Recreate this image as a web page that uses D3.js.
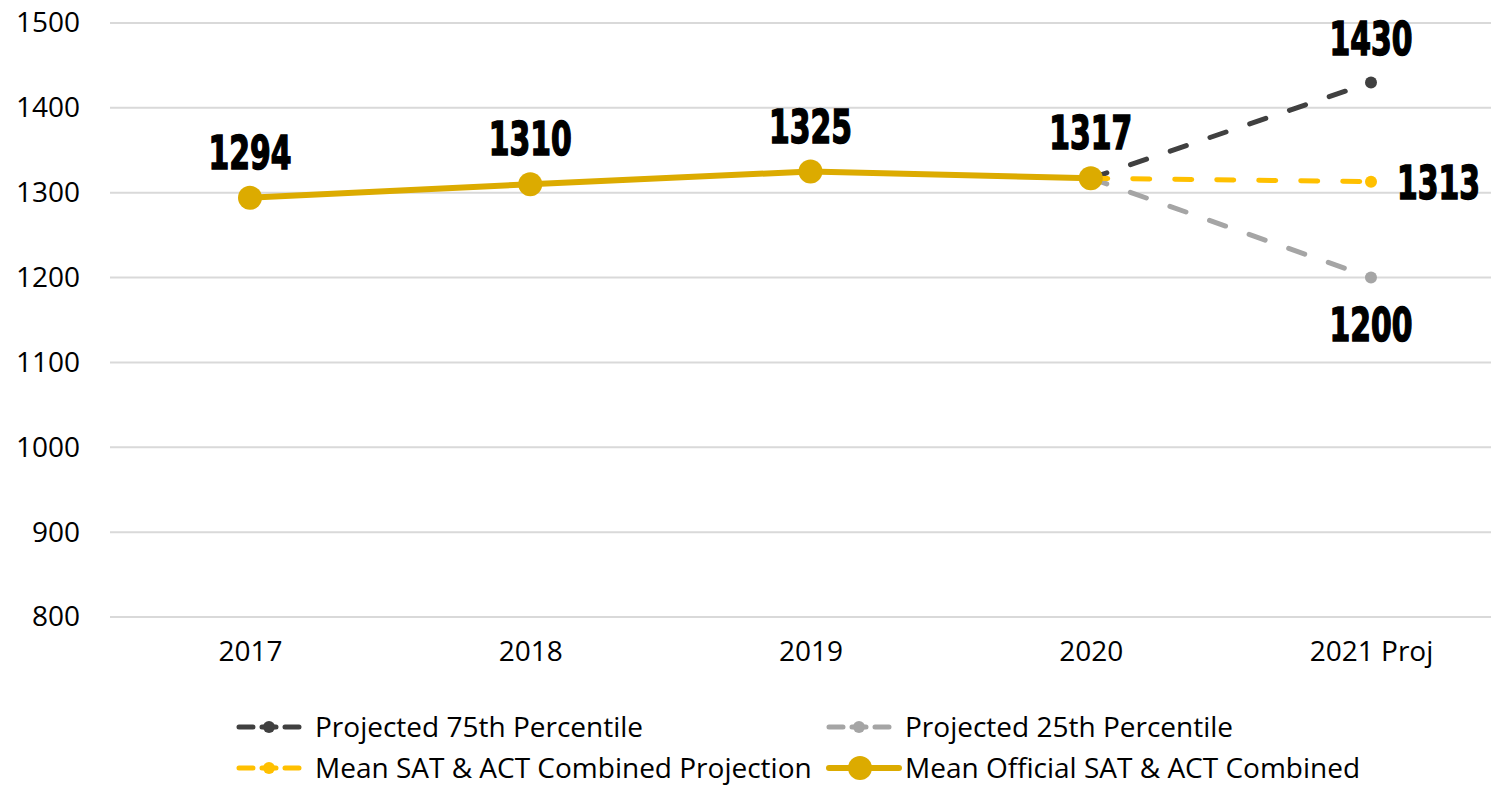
<!DOCTYPE html>
<html>
<head>
<meta charset="utf-8">
<script src="https://cdn.jsdelivr.net/npm/d3@7"></script>
<style>
  body { margin: 0; background: #fff; }
  .tick text { font-family: "Open Sans", sans-serif; font-size: 28px; fill: #000; }
  .lbl { font-family: "DejaVu Sans Condensed", "DejaVu Sans", sans-serif; font-weight: bold; font-size: 46px; fill: #000; stroke: #000; stroke-width: 1.5px; }
  .leg { font-family: "Open Sans", sans-serif; font-size: 28px; fill: #000; }
</style>
</head>
<body>
<div id="chart"></div>
<script>
var categories = ["2017", "2018", "2019", "2020", "2021 Proj"];
var official = [1294, 1310, 1325, 1317, null];
var projMean = [null, null, null, 1317, 1313];
var proj75 = [null, null, null, 1317, 1430];
var proj25 = [null, null, null, 1317, 1200];
var yTicks = [800, 900, 1000, 1100, 1200, 1300, 1400, 1500];

var W = 1491, H = 785;
var margin = { top: 23, left: 110, bottom: 168 };

var svg = d3.select("#chart").append("svg")
    .attr("width", W)
    .attr("height", H);

var x = d3.scalePoint()
    .domain(categories)
    .range([250, 1371]);

var y = d3.scaleLinear()
    .domain([800, 1500])
    .range([H - margin.bottom, margin.top]);

// gridlines
svg.append("g")
    .selectAll("line")
    .data(yTicks)
    .enter().append("line")
    .attr("x1", margin.left)
    .attr("x2", W)
    .attr("y1", function (d) { return y(d); })
    .attr("y2", function (d) { return y(d); })
    .attr("stroke", "#d9d9d9")
    .attr("stroke-width", 2);

// y axis
var gy = svg.append("g")
    .attr("transform", "translate(80,0)")
    .call(d3.axisLeft(y).tickValues(yTicks).tickFormat(d3.format("d")).tickSize(0).tickPadding(0));
gy.select(".domain").remove();

// x axis
var gx = svg.append("g")
    .attr("transform", "translate(0," + (y(800) + 20) + ")")
    .call(d3.axisBottom(x).tickSize(0).tickPadding(0));
gx.select(".domain").remove();
gx.selectAll("text").attr("dy", "0.85em");

function toPoints(vals) {
    return categories.map(function (c, i) { return { c: c, v: vals[i] }; })
        .filter(function (d) { return d.v != null; });
}

var line = d3.line()
    .x(function (d) { return x(d.c); })
    .y(function (d) { return y(d.v); });

var projSeries = [
    { name: "Projected 25th Percentile", vals: proj25, color: "#a5a5a5" },
    { name: "Projected 75th Percentile", vals: proj75, color: "#404040" },
    { name: "Mean SAT & ACT Combined Projection", vals: projMean, color: "#ffc000" }
];

projSeries.forEach(function (s) {
    var pts = toPoints(s.vals);
    svg.append("path")
        .datum(pts)
        .attr("d", line)
        .attr("fill", "none")
        .attr("stroke", s.color)
        .attr("stroke-width", 5)
        .attr("stroke-linecap", "round")
        .attr("stroke-dasharray", "17 25");
    svg.selectAll(null)
        .data(pts)
        .enter().append("circle")
        .attr("cx", function (d) { return x(d.c); })
        .attr("cy", function (d) { return y(d.v); })
        .attr("r", 6)
        .attr("fill", s.color);
});

// official line
var offPts = toPoints(official);
svg.append("path")
    .datum(offPts)
    .attr("d", line)
    .attr("fill", "none")
    .attr("stroke", "#dcab00")
    .attr("stroke-width", 6);
svg.selectAll(null)
    .data(offPts)
    .enter().append("circle")
    .attr("cx", function (d) { return x(d.c); })
    .attr("cy", function (d) { return y(d.v); })
    .attr("r", 12)
    .attr("fill", "#dcab00");

// data labels (condensed, squeezed horizontally)
var sx = 0.72;
function label(px, py, anchor, txt) {
    svg.append("text")
        .attr("class", "lbl")
        .attr("text-anchor", anchor)
        .attr("transform", "translate(" + px + "," + py + ") scale(" + sx + ",1)")
        .text(txt);
}
offPts.forEach(function (d) { label(x(d.c), y(d.v) - 29, "middle", d.v); });

var last = categories[categories.length - 1];
label(x(last), y(proj75[4]) - 27, "middle", proj75[4]);
label(x(last) + 26, y(projMean[4]) + 17, "start", projMean[4]);
label(x(last), y(proj25[4]) + 63, "middle", proj25[4]);

// legend
var legend = [
    { name: "Projected 75th Percentile", color: "#404040", x: 237, y: 727, big: false },
    { name: "Projected 25th Percentile", color: "#a5a5a5", x: 827, y: 727, big: false },
    { name: "Mean SAT & ACT Combined Projection", color: "#ffc000", x: 237, y: 768, big: false },
    { name: "Mean Official SAT & ACT Combined", color: "#dcab00", x: 827, y: 768, big: true }
];
var lg = svg.append("g").selectAll("g")
    .data(legend)
    .enter().append("g")
    .attr("transform", function (d) { return "translate(" + d.x + "," + d.y + ")"; });
lg.append("line")
    .attr("x1", 2).attr("x2", function (d) { return d.big ? 72 : 62; })
    .attr("stroke", function (d) { return d.color; })
    .attr("stroke-width", function (d) { return d.big ? 6 : 5; })
    .attr("stroke-linecap", "round")
    .attr("stroke-dasharray", function (d) { return d.big ? null : "14 9"; });
lg.append("circle")
    .attr("cx", function (d) { return d.big ? 33 : 32; })
    .attr("r", function (d) { return d.big ? 12 : 6; })
    .attr("fill", function (d) { return d.color; });
lg.append("text")
    .attr("class", "leg")
    .attr("x", 78)
    .attr("dy", "0.35em")
    .text(function (d) { return d.name; });
</script>
</body>
</html>
